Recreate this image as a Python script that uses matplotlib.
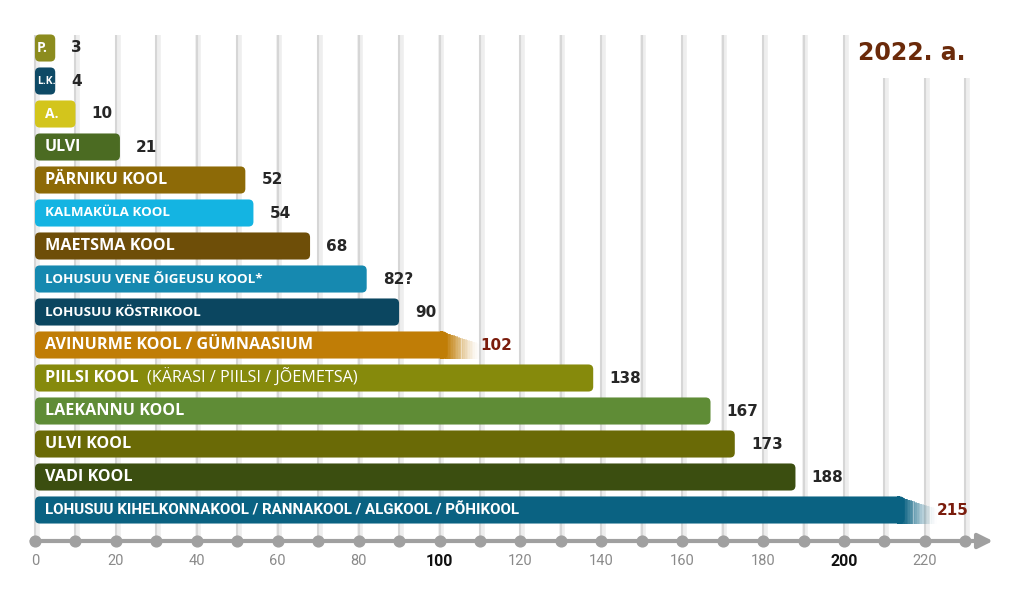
import numpy as np
import matplotlib
matplotlib.use("Agg")
import matplotlib.pyplot as plt
from matplotlib.patches import FancyBboxPatch

# school names, top to bottom
schools = ['P.', 'L.K.', 'A.', 'ULVI', 'PÄRNIKU KOOL', 'KALMAKÜLA KOOL',
           'MAETSMA KOOL', 'LOHUSUU VENE ÕIGEUSU KOOL*', 'LOHUSUU KÖSTRIKOOL',
           'AVINURME KOOL / GÜMNAASIUM', 'PIILSI KOOL',
           'LAEKANNU KOOL', 'ULVI KOOL', 'VADI KOOL',
           'LOHUSUU KIHELKONNAKOOL / RANNAKOOL / ALGKOOL / PÕHIKOOL']
values = [3, 4, 10, 21, 52, 54, 68, 82, 90, 102, 138, 167, 173, 188, 215]
value_labels = ['3', '4', '10', '21', '52', '54', '68', '82?', '90', '102',
                '138', '167', '173', '188', '215']
colors = ['#8c8c1e', '#0e4a66', '#d3c51c', '#4b6b22', '#8d6a07', '#14b4e2',
          '#6e4e08', '#1689b0', '#0b4660', '#c07d06', '#868a0c', '#5f8c36',
          '#6a6a06', '#3b4e10', '#0a6282']
label_sizes = [10, 7.5, 10, 11.5, 11.6, 9.6, 11.6, 9.7, 9.7, 11.6, 11.6,
               11.6, 11.6, 11.6, 10.8]
frayed = [False] * 9 + [True] + [False] * 4 + [True]
piilsi_extra = '(KÄRASI / PIILSI / JÕEMETSA)'
ticks = np.arange(0, 231, 10)
tick_labels = np.arange(0, 221, 20)
title = '2022. a.'

px_x = 4.045   # pixels per value unit
px_y = 33.0    # pixels per row

fig = plt.figure(figsize=(10.24, 5.91), dpi=100)
ax = fig.add_axes([0, 0, 1, 1])
ax.set_xlim(-35 / px_x, (1024 - 35) / px_x)
ax.set_ylim((591 - 48) / px_y, -48 / px_y)
ax.axis('off')

axis_y = (541 - 48) / px_y
grid_top = (35 - 48) / px_y
grid_top_right = (78 - 48) / px_y

# vertical grid lines with a soft shadow
for t in ticks:
    top = grid_top_right if t >= 210 else grid_top
    ax.vlines(t + 0.4, top, axis_y, color='#eeeeee', lw=4, zorder=0)
    ax.vlines(t, top, axis_y, color='#d6d6d6', lw=1.5, zorder=1)

# bars, drawn through barh then swapped for rounded boxes
ypos = np.arange(len(schools))
widths = np.maximum(values, 5)
bars = ax.barh(ypos, widths, height=0.82, color=colors)
for bar, c in zip(bars, colors):
    x, y = bar.get_x(), bar.get_y()
    w, h = bar.get_width(), bar.get_height()
    bar.remove()
    box = FancyBboxPatch((x, y), w, h,
                         boxstyle='round,pad=0,rounding_size=1.2',
                         mutation_aspect=px_x / px_y,
                         fc=c, ec='none', zorder=3)
    ax.add_patch(box)

# frayed ends fading out (the lower edge reaches further)
for i, v in enumerate(values):
    if frayed[i]:
        n = 24
        for k in range(n):
            f = k / n
            ax.barh(ypos[i] + 0.2 * f, 0.8, left=v - 2 + k * 0.42,
                    height=0.82 - 0.4 * f, color=colors[i],
                    alpha=(1 - f) ** 2, lw=0, zorder=3)

# labels inside bars
for i, name in enumerate(schools):
    x0 = 0.5 if values[i] < 8 else 2.5
    family = 'Roboto' if i == 14 else 'Open Sans'
    t = ax.text(x0, ypos[i], name, color='white', fontsize=label_sizes[i],
                fontweight='bold', family=family, va='center', ha='left',
                zorder=4)
    if name == 'PIILSI KOOL':
        fig.canvas.draw()
        bb = t.get_window_extent()
        xe = ax.transData.inverted().transform((bb.x1, 0))[0]
        ax.text(xe + 2, ypos[i], piilsi_extra, color='white', fontsize=11.6,
                family='Open Sans', va='center', ha='left', zorder=4)

# value labels
for i, lab in enumerate(value_labels):
    gap = 8 if frayed[i] else 4
    col = '#7a1c0c' if frayed[i] else '#262626'
    ax.text(widths[i] + gap, ypos[i], lab, color=col, fontsize=11,
            fontweight='bold', family='DejaVu Sans', va='center', ha='left',
            zorder=4)

# x axis with dots and arrow
ax.annotate('', xy=(237.5, axis_y), xytext=(-1.5, axis_y),
            arrowprops=dict(arrowstyle='-|>', color='#a0a0a0', lw=3,
                            mutation_scale=22), zorder=2)
ax.scatter(ticks, np.full(len(ticks), axis_y), s=60, color='#a0a0a0',
           zorder=5)
label_y = (561 - 48) / px_y
for t in tick_labels:
    bold = t in (100, 200)
    ax.text(t, label_y, str(t), ha='center', va='center',
            fontsize=11.5 if bold else 10.5,
            fontweight='bold' if bold else 'normal',
            color='#111111' if bold else '#8a8a8a', family='Roboto')

ax.text(230, (53 - 48) / px_y, title, ha='right', va='center', fontsize=17,
        fontweight='bold', family='DejaVu Sans', color='#6b2a0a')

fig.savefig('out.png', dpi=100)
